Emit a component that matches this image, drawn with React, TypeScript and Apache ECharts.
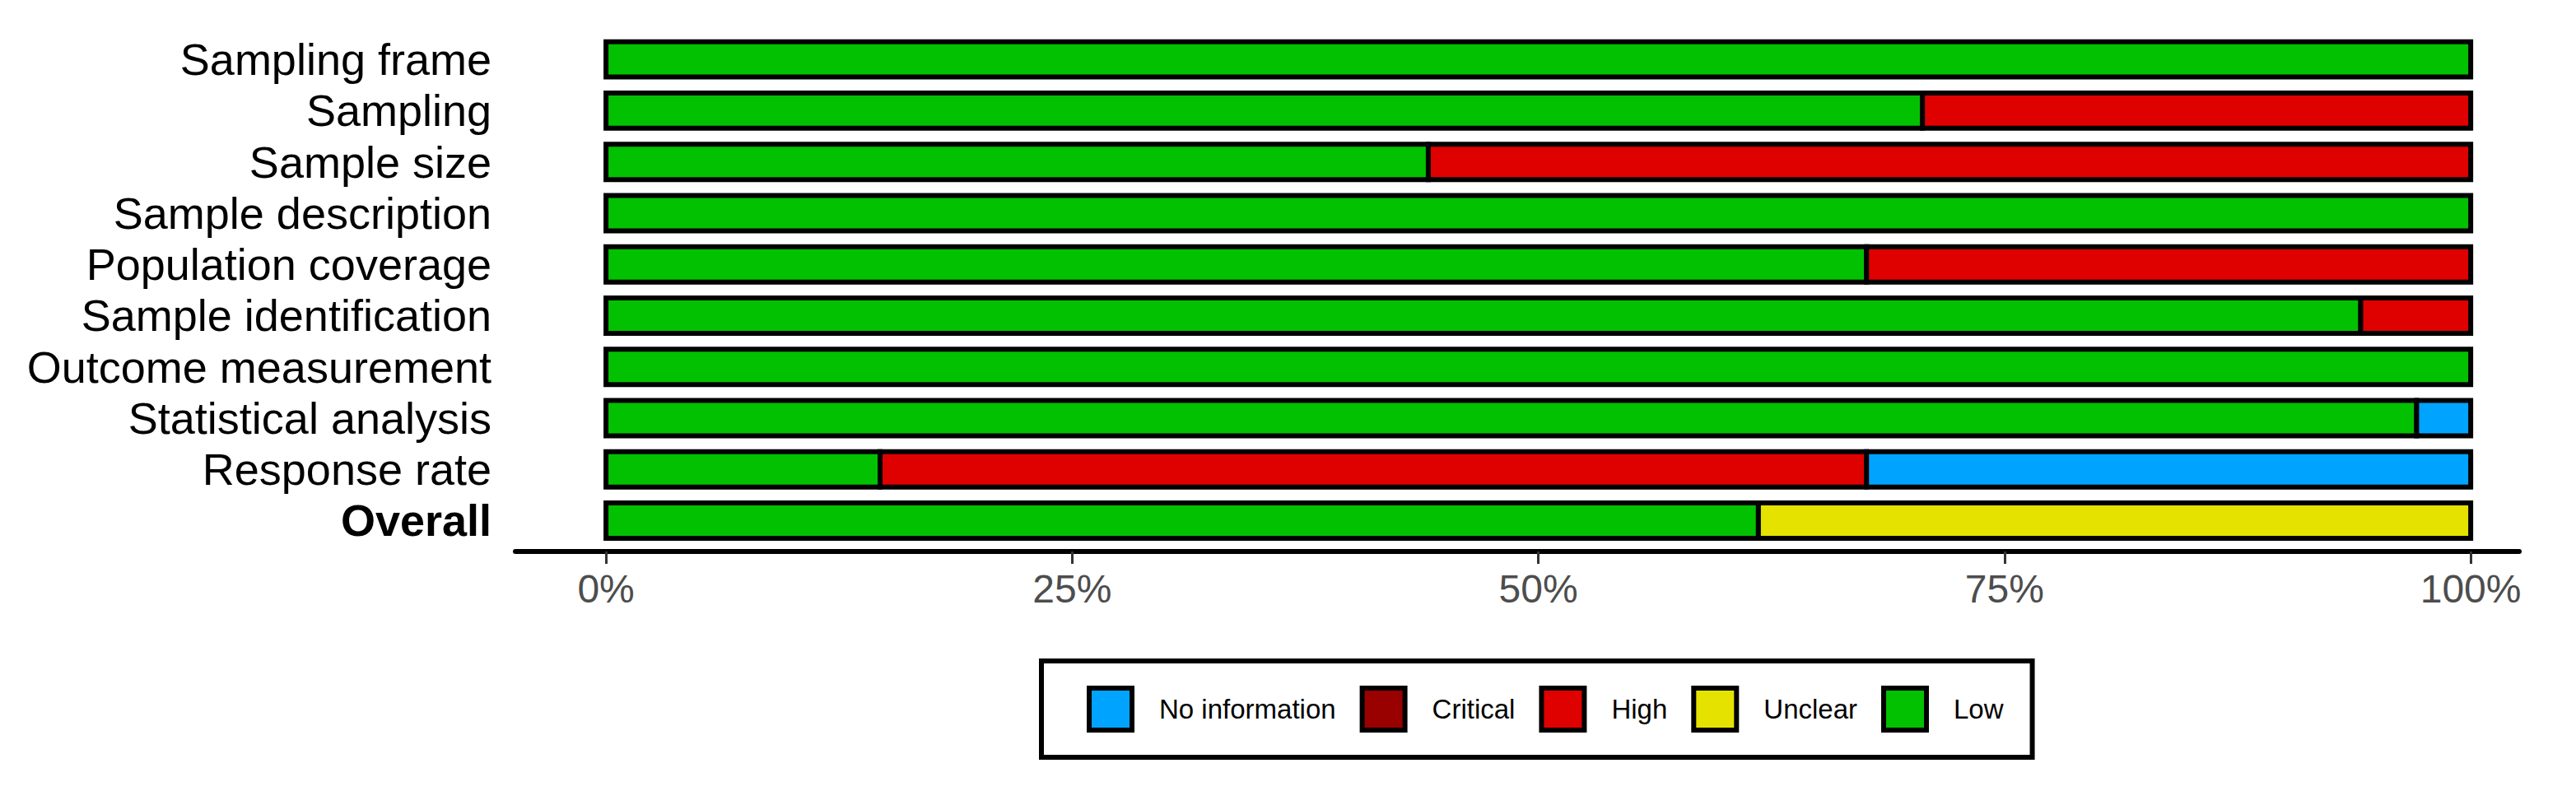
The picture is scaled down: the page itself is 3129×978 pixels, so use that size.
import React, { useEffect, useRef } from "react";
import * as echarts from "echarts";

const categories = [
  "Sampling frame",
  "Sampling",
  "Sample size",
  "Sample description",
  "Population coverage",
  "Sample identification",
  "Outcome measurement",
  "Statistical analysis",
  "Response rate",
  "Overall",
];

// percentages of studies per judgement
const lowPct = [100, 70.6, 44.1, 100, 67.6, 94.1, 100, 97.1, 14.7, 61.8];
const unclearPct = [0, 0, 0, 0, 0, 0, 0, 0, 0, 38.2];
const highPct = [0, 29.4, 55.9, 0, 32.4, 5.9, 0, 0, 52.9, 0];
const criticalPct = [0, 0, 0, 0, 0, 0, 0, 0, 0, 0];
const noInfoPct = [0, 0, 0, 0, 0, 0, 0, 2.9, 32.4, 0];

const xTicks = [0, 25, 50, 75, 100];
const legendOrder = ["No information", "Critical", "High", "Unclear", "Low"];

const FONT = "'Liberation Sans', Arial, Helvetica, sans-serif";

const seriesDefs = [
  { name: "Low", data: lowPct, color: "#02C100" },
  { name: "Unclear", data: unclearPct, color: "#E5E200" },
  { name: "High", data: highPct, color: "#DF0000" },
  { name: "Critical", data: criticalPct, color: "#990000" },
  { name: "No information", data: noInfoPct, color: "#00A4FF" },
];

export default function App() {
  const ref = useRef<HTMLDivElement>(null);

  useEffect(() => {
    if (!ref.current) return;
    const chart = echarts.init(ref.current, null, { renderer: "svg" });

    // cumulative stacking (start, end) per category
    const cum = categories.map(() => 0);
    const series = seriesDefs.map((s) => {
      const data: any[] = [];
      s.data.forEach((v, i) => {
        if (v > 0) {
          data.push([cum[i], cum[i] + v, i]);
          cum[i] += v;
        }
      });
      const color = s.color;
      return {
        name: s.name,
        type: "custom",
        silent: true,
        itemStyle: { color, borderColor: "#000", borderWidth: 6 },
        encode: { x: [0, 1], y: 2 },
        data,
        renderItem: (params: any, api: any) => {
          const st = api.value(0);
          const en = api.value(1);
          const c = api.value(2);
          const p0 = api.coord([st, c]);
          const p1 = api.coord([en, c]);
          const h = api.size([0, 1])[1] * 0.69;
          return {
            type: "rect",
            shape: { x: p0[0], y: p0[1] - h / 2, width: p1[0] - p0[0], height: h },
            style: { fill: color, stroke: "#000", lineWidth: 6 },
          };
        },
      };
    });

    chart.setOption({
      animation: false,
      backgroundColor: "#ffffff",
      grid: { left: 626, right: 69, top: 41, bottom: 314.4, containLabel: false },
      xAxis: {
        type: "value",
        min: -4.86,
        max: 102.6,
        offset: 6.4,
        splitLine: { show: false },
        axisLine: { show: true, lineStyle: { color: "#000", width: 6 } },
        axisTick: {
          show: true,
          customValues: xTicks,
          length: 15,
          lineStyle: { color: "#333", width: 3 },
        },
        axisLabel: {
          customValues: xTicks,
          formatter: "{value}%",
          fontSize: 48,
          fontFamily: FONT,
          color: "#4D4D4D",
          margin: 21,
        },
      },
      yAxis: {
        type: "category",
        data: categories,
        inverse: true,
        axisLine: { show: false },
        axisTick: { show: false },
        axisLabel: {
          interval: 0,
          fontSize: 54,
          fontFamily: FONT,
          color: "#000",
          margin: 29,
          formatter: (v: string) => (v === "Overall" ? `{b|${v}}` : v),
          rich: {
            b: { fontSize: 54, fontFamily: FONT, fontWeight: "bold", color: "#000" },
          },
        },
      },
      legend: {
        data: legendOrder,
        selectedMode: false,
        orient: "horizontal",
        left: 1265,
        top: 803,
        icon: "rect",
        itemWidth: 52,
        itemHeight: 51,
        itemGap: 29,
        padding: [30, 35, 30, 55],
        borderColor: "#000",
        borderWidth: 6,
        itemStyle: { borderColor: "#000", borderWidth: 6 },
        textStyle: {
          fontSize: 33,
          color: "#000",
          fontFamily: FONT,
          padding: [0, 0, 0, 28],
        },
      },
      series,
    });
    return () => chart.dispose();
  }, []);

  return (
    <div
      ref={ref}
      style={{ position: "absolute", left: 0, top: 0, width: 3129, height: 978 }}
    />
  );
}
